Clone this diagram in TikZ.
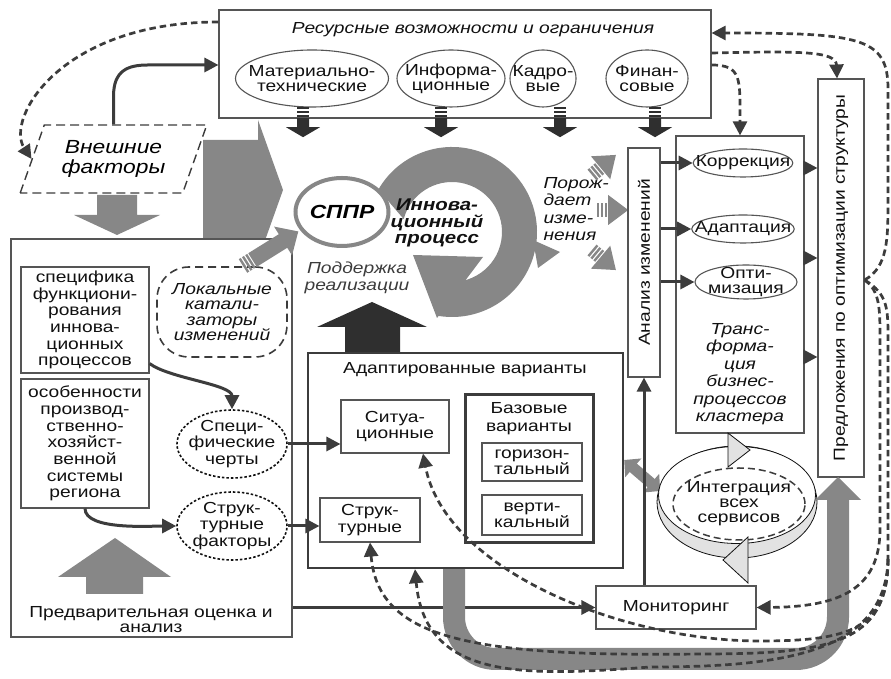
\documentclass[tikz,border=0pt]{standalone}
\usepackage{fontspec}
\setmainfont{Liberation Sans}[FakeStretch=1.2]
\usetikzlibrary{arrows.meta,shapes.geometric,calc}
\definecolor{ink}{HTML}{111111}
\definecolor{boxline}{HTML}{555555}
\definecolor{conn}{HTML}{3C3C3C}
\definecolor{dark}{HTML}{2F2F2F}
\definecolor{mid}{HTML}{878787}
\definecolor{light}{HTML}{E2E2E2}
\newcommand\dfont{\fontsize{16}{16.7}\selectfont}
\newcommand\dtight{\fontsize{16}{15}\selectfont}
\newcommand\dital{\fontsize{16}{17.5}\selectfont\itshape}
\newcommand\dbig{\fontsize{19}{20}\selectfont\itshape}
\newcommand\dbold{\fontsize{17}{16.5}\selectfont\bfseries\itshape}
\tikzset{
  box/.style={draw=boxline, line width=1.1pt, fill=white, align=center, font=\dfont, inner sep=2pt, text=ink},
  tbox/.style={box, draw=conn, line width=2.4pt},
  oval/.style={ellipse, draw=boxline, line width=1.1pt, fill=white, align=center, font=\dfont, inner sep=-12pt, text=ink},
  dotoval/.style={oval, draw=ink, line width=1.6pt, dash pattern=on 2.5pt off 2pt},
  line/.style={draw=conn, line width=3pt},
  arr/.style={line, -{Triangle[width=14pt,length=14pt]}},
  dline/.style={draw=conn, line width=2.7pt, dash pattern=on 6.5pt off 4pt},
  darr/.style={dline, -{Triangle[width=14pt,length=14pt]}},
  lbl/.style={font=\dfont, align=center, text=ink},
  ilbl/.style={font=\dital, align=center, text=ink},
  garrow/.style={fill=mid},
  darkarrow/.style={fill=dark},
  pics/stripearr/.style n args={4}{code={
    \foreach \s in {0,3.8,7.6} \fill (\s,-#2) rectangle ++(2.4,2*#2);
    \fill (11.2,-#2) -- ({11.2+#1},-#2) -- ({11.2+#1},-#4) -- ({11.2+#1+#3},0) -- ({11.2+#1},#4) -- ({11.2+#1},#2) -- (11.2,#2) -- cycle;
  }}
}
\begin{document}
\begin{tikzpicture}[x=1pt,y=1pt]
  \useasboundingbox (0,0) rectangle (891,679);

  \fill[garrow] (203,539) -- (258,539) -- (258,559) -- (283,489) -- (258,419) -- (258,439) -- (203,439) -- cycle;
  \fill[garrow] (97,484) -- (137,484) -- (137,464) -- (160,464) -- (117,444) -- (74,464) -- (97,464) -- cycle;

  \node[box, minimum width=492, minimum height=108] (res) at (465,615) {};
  \node[ilbl] (restitle) at (473,649) {Ресурсные возможности и ограничения};
  \node[oval, font=\dtight, minimum width=153, minimum height=57] (mat) at (312,600.5) {Материально-\\технические};
  \node[oval, font=\dtight, minimum width=108, minimum height=57] (inf) at (451,600.5) {Информа-\\ционные};
  \node[oval, font=\dtight, minimum width=66, minimum height=57] (kad) at (543,600.5) {Кадро-\\вые};
  \node[oval, font=\dtight, minimum width=82, minimum height=57] (fin) at (647,600.5) {Финан-\\совые};
  \foreach \x in {303,441,560,655}
    \pic[rotate=-90, darkarrow] at (\x,572) {stripearr={9}{6}{10}{17}};

  \node[shape=trapezium, trapezium left angle=64, trapezium right angle=116, trapezium stretches=true,
        draw=conn, line width=1.4pt, dash pattern=on 9pt off 5pt, minimum width=187, minimum height=68,
        font=\dbig, align=center, inner sep=0pt] (ext) at (113.5,520) {Внешние\\факторы};

  \node[box, minimum width=281, minimum height=398] (left) at (151.5,241) {};
  \node[box, minimum width=128, minimum height=106] (spec) at (85,359) {специфика\\функциони-\\рования\\иннова-\\ционных\\процессов};
  \node[box, minimum width=128, minimum height=129] (osob) at (85,235.5) {особенности\\производ-\\ственно-\\хозяйст-\\венной\\системы\\региона};
  \node[box, draw=conn, line width=1.6pt, dash pattern=on 8pt off 5pt, rounded corners=32pt,
        font={\fontsize{16}{15.5}\selectfont\itshape}, minimum width=130, minimum height=90] (catal) at (222,367) {Локальные\\катали-\\заторы\\изменений};
  \node[dotoval, minimum width=110, minimum height=68] (spch) at (232,235) {Специ-\\фические\\черты};
  \node[dotoval, minimum width=110, minimum height=68] (strf) at (232,153) {Струк-\\турные\\факторы};
  \fill[garrow] (86,85) -- (143,85) -- (143,102) -- (171,102) -- (115,141) -- (58,102) -- (86,102) -- cycle;
  \node[lbl, font=\dtight] (pre) at (151,59) {Предварительная оценка и\\анализ};
  \draw[arr] ([yshift=10pt]spec.south east) .. controls +(20,-15) and +(0,25) .. (spch.north);
  \draw[arr] (osob.south) .. controls +(0,-22) and +(-25,0) .. (strf.west);

  \pic[rotate=32, garrow] at (243,413) {stripearr={36}{8}{18}{17}};

  \fill[garrow] ([shift={(452,447)}]150:85) arc[start angle=150, end angle=-100, radius=85]
    -- ([shift={(452,447)}]-100:50) arc[start angle=-100, end angle=165, radius=50] -- cycle;
  \fill[garrow] (413,424) -- (437,361) -- (483,422) -- cycle;
  \fill[garrow] (533,439) -- (560,427) -- (538,411) -- cycle;
  \node[ellipse, draw=mid, line width=4pt, fill=white, minimum width=93, minimum height=68,
        font={\fontsize{19}{20}\selectfont\bfseries\itshape}, inner sep=0pt] (sppr) at (342,467) {СППР};
  \node[font=\dbold, align=center, text=ink] (inno) at (437,456) {Иннова-\\ционный\\процесс};
  \node[ilbl, text=conn] (podd) at (357,401) {Поддержка\\реализации};
  \fill[darkarrow] (345,326) -- (400,326) -- (400,352) -- (427,352) -- (372,377) -- (317,352) -- (345,352) -- cycle;

  \node[ilbl, align=left, anchor=west] (pored) at (540,470) {Порож-\\дает\\изме-\\нения};
  \pic[rotate=40, garrow] at (592,504) {stripearr={0}{7}{20}{15}};
  \pic[garrow] at (597,469) {stripearr={0}{7}{20}{15}};
  \pic[rotate=-40, garrow] at (592,429) {stripearr={0}{7}{20}{15}};

  \node[box, minimum width=32, minimum height=229, inner sep=0pt] (anal) at (644,416.5) {\rotatebox{90}{Анализ изменений}};
  \node[box, minimum width=128, minimum height=297] (trans) at (740,394.5) {};
  \node[oval, minimum width=97, minimum height=28] (korr) at (743,516) {Коррекция};
  \node[oval, minimum width=97, minimum height=28] (adapt) at (743,450) {Адаптация};
  \node[oval, font=\dtight, minimum width=102, minimum height=34] (opt) at (746,397) {Опти-\\мизация};
  \node[ilbl] (transtxt) at (740,305) {Транс-\\форма-\\ция\\бизнес-\\процессов\\кластера};
  \node[box, minimum width=46, minimum height=398, inner sep=0pt] (pred) at (841,401) {\rotatebox{90}{Предложения по оптимизации структуры}};
  \draw[arr] (anal.east |- korr.west) -- (korr.west);
  \draw[arr] (anal.east |- adapt.west) -- (adapt.west);
  \draw[arr] (anal.east |- opt.west) -- (opt.west);
  \foreach \y in {511,421,322}
    \draw[arr] (trans.east |- 0,\y) -- (pred.west |- 0,\y);

  \node[tbox, minimum width=315, minimum height=215] (adv) at (465.5,218.5) {};
  \node[lbl] (advtitle) at (465,309) {Адаптированные варианты};
  \node[box, minimum width=108, minimum height=53] (situ) at (395,252.5) {Ситуа-\\ционные};
  \node[box, minimum width=100, minimum height=44] (strk) at (370,159) {Струк-\\турные};
  \node[tbox, line width=3pt, minimum width=128, minimum height=148] (base) at (529,210) {};
  \node[lbl, font={\fontsize{16}{18}\selectfont}] (basetitle) at (529,260) {Базовые\\варианты};
  \node[box, font=\dtight, minimum width=100, minimum height=38] (horiz) at (532,217) {горизон-\\тальный};
  \node[box, font=\dtight, minimum width=100, minimum height=40] (vert) at (532,164) {верти-\\кальный};
  \draw[arr] (spch.east) -- (situ.west |- spch.east);
  \draw[arr] (strf.east) -- (strk.west |- strf.east);

  \draw[mid, line width=11pt, {Triangle[width=24pt,length=12pt]}-{Triangle[width=24pt,length=12pt]}] (adv.east |- 0,219) -- ++(36,-31);
  \filldraw[fill=light, draw=ink, line width=0.8pt] (737,177) ellipse [x radius=80, y radius=56];
  \filldraw[fill=white, draw=ink, line width=0.8pt] (737,184) ellipse [x radius=78.5, y radius=48.5];
  \node[oval, fill=none, draw=conn, line width=1.5pt, dash pattern=on 7pt off 4pt, font=\dtight,
        minimum width=132, minimum height=72] (integ) at (739,175) {Интеграция\\всех\\сервисов};
  \filldraw[fill=light, draw=ink, line width=0.8pt] (728,246) -- (750,229) -- (728,212) -- cycle;
  \filldraw[fill=light, draw=ink, line width=0.8pt] (748,142) -- (723,119) -- (748,96) -- cycle;

  \node[box, minimum width=160, minimum height=43] (mon) at (676,71.5) {Мониторинг};
  \draw[arr] (mon.north -| anal.south) -- (anal.south);
  \draw[arr] (left.east |- mon.west) -- (mon.west);

  \draw[mid, line width=22pt, rounded corners=42pt] (adv.south -| 454,0) -- (454,20) -- (838,20) -- (838,180);
  \fill[garrow] (815,179) -- (861,179) -- (838,202) -- cycle;

  \draw[arr] (ext.north) -- ++(0,28) .. controls +(0,26) and +(-20,0) .. (148,614) -- (res.west |- 0,614);
  \draw[darr] (res.west |- 0,657) .. controls (60,657) and (5,560) .. (ext.left side);
  \draw[darr] (res.east |- 0,626) .. controls (800,628) and (836,628) .. ([xshift=-4pt]pred.north);
  \draw[darr] (res.east |- 0,614) .. controls (742,614) and (740,600) .. (trans.north);
  \draw[darr] (pred.east |- 0,399) .. controls (888,412) and (888,440) .. (888,480) -- (888,590)
    .. controls (888,642) and (860,646) .. (res.east |- 0,646);
  \draw[darr] (pred.east |- 0,399) .. controls (880,388) and (880,370) .. (880,340) -- (880,150)
    .. controls (880,90) and (840,72) .. (mon.east);
  \draw[dline] (pred.east |- 0,399) .. controls (888,385) and (888,370) .. (888,340) -- (888,120) coordinate (fork);
  \draw[darr] (fork) .. controls (888,50) and (850,38) .. (760,38) .. controls (620,38) and (445,110) .. ([xshift=28pt]situ.south);
  \draw[darr] (fork) .. controls (888,35) and (830,25) .. (700,25) .. controls (470,22) and (378,40) .. (strk.south);
  \draw[darr] (fork) .. controls (886,25) and (780,12) .. (650,12) .. controls (520,2) and (425,0) .. (adv.south -| 415,0);
\end{tikzpicture}
\end{document}
